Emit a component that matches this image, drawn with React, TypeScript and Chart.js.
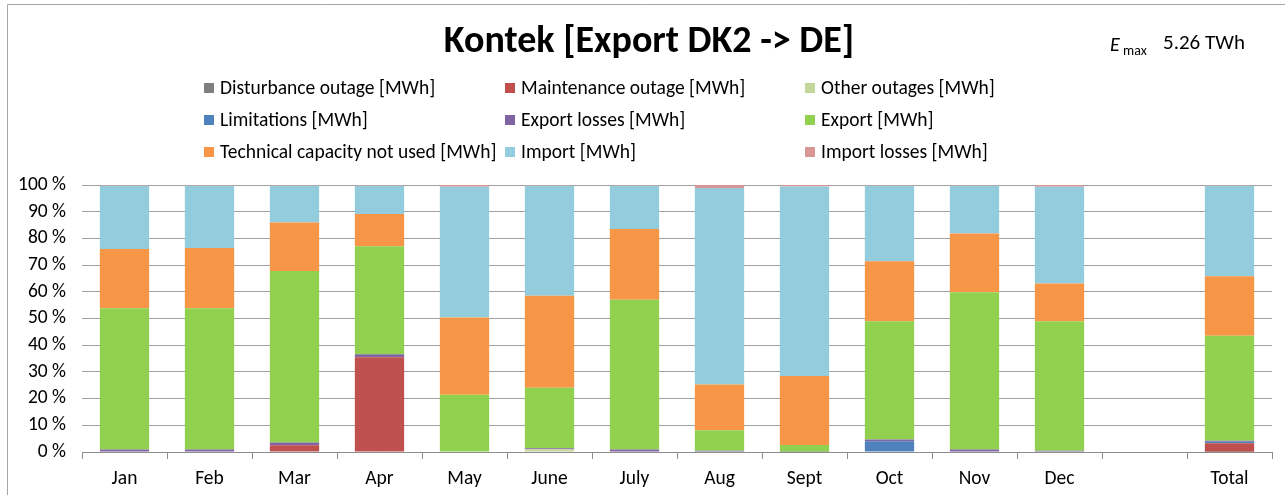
import React, { useEffect, useRef } from "react";
import { Chart, registerables } from "chart.js";

Chart.register(...registerables);

const FONT = "Carlito, Calibri, Lato, 'Noto Sans', sans-serif";

const TITLE = "Kontek [Export DK2 -> DE]";
const EMAX_VALUE = "5.26 TWh";

const categories = ["Jan", "Feb", "Mar", "Apr", "May", "June", "July", "Aug", "Sept", "Oct", "Nov", "Dec", "", "Total"];

// percent shares of E_max per month
const disturbanceOutage = [0, 0, 0, 0, 0, 0, 0, 0, 0, 0, 0, 0, null, 0.1];
const maintenanceOutage = [0, 0, 2.5, 35.5, 0, 0, 0, 0, 0, 0, 0, 0, null, 3.2];
const otherOutages = [0, 0, 0, 0, 0, 1.0, 0, 0, 0, 0, 0, 0, null, 0];
const limitations = [0, 0, 0, 0, 0, 0, 0, 0, 0, 4.0, 0, 0, null, 0.5];
const exportLosses = [0.9, 0.9, 1.1, 1.1, 0.2, 0.4, 0.9, 0.5, 0.1, 0.7, 0.9, 0.5, null, 0.4];
const exportValues = [52.9, 52.9, 64.2, 40.5, 21.2, 22.7, 56.1, 7.6, 2.5, 44.3, 58.9, 48.5, null, 39.3];
const technicalNotUsed = [22.2, 22.6, 18.2, 12.0, 29.0, 34.4, 26.5, 17.2, 25.9, 22.4, 22.0, 14.1, null, 22.3];
const importValues = [23.7, 23.3, 13.7, 10.6, 48.9, 41.2, 16.2, 73.6, 70.9, 28.3, 17.9, 36.2, null, 33.9];
const importLosses = [0.3, 0.3, 0.3, 0.3, 0.7, 0.3, 0.3, 1.1, 0.6, 0.3, 0.3, 0.7, null, 0.3];

const yTicks = [0, 10, 20, 30, 40, 50, 60, 70, 80, 90, 100];

const seriesLabels = [
  "Disturbance outage [MWh]",
  "Maintenance outage [MWh]",
  "Other outages [MWh]",
  "Limitations [MWh]",
  "Export losses [MWh]",
  "Export [MWh]",
  "Technical capacity not used [MWh]",
  "Import [MWh]",
  "Import losses [MWh]",
];
const seriesColors = ["#7f7f7f", "#c0504d", "#c3d69b", "#4f81bd", "#8064a2", "#92d050", "#f79646", "#93cddd", "#d99694"];
const seriesData = [
  disturbanceOutage,
  maintenanceOutage,
  otherOutages,
  limitations,
  exportLosses,
  exportValues,
  technicalNotUsed,
  importValues,
  importLosses,
];

const overlayPlugin = {
  id: "overlay",
  beforeDraw(chart: any) {
    const ctx = chart.ctx;
    ctx.save();
    ctx.fillStyle = "#ffffff";
    ctx.fillRect(0, 0, chart.width, chart.height);
    ctx.strokeStyle = "#a6a6a6";
    ctx.lineWidth = 1;
    ctx.beginPath();
    ctx.moveTo(7.5, 600);
    ctx.lineTo(7.5, 4.5);
    ctx.lineTo(1400, 4.5);
    ctx.stroke();
    ctx.restore();
  },
  afterDraw(chart: any) {
    const ctx = chart.ctx;
    ctx.save();
    ctx.fillStyle = "#000000";
    ctx.textBaseline = "middle";
    ctx.textAlign = "center";
    ctx.font = `bold 38px ${FONT}`;
    ctx.fillText(TITLE, 649, 42);

    ctx.textAlign = "left";
    ctx.font = `italic 20px ${FONT}`;
    ctx.fillText("E", 1110, 46);
    ctx.font = `14px ${FONT}`;
    ctx.fillText("max", 1123, 51);
    ctx.font = `21px ${FONT}`;
    ctx.fillText(EMAX_VALUE, 1163, 44);

    const cols = [204, 505, 805];
    const rows = [88, 120, 152];
    chart.data.datasets.forEach((ds: any, i: number) => {
      const c = i % 3;
      const r = Math.floor(i / 3);
      ctx.fillStyle = ds.backgroundColor;
      ctx.fillRect(cols[c], rows[r] - 5, 10, 10);
      ctx.fillStyle = "#000000";
      ctx.font = `19.5px ${FONT}`;
      ctx.fillText(ds.label, cols[c] + 16, rows[r] + 1);
    });
    ctx.restore();
  },
};

export default function App() {
  const canvasRef = useRef<HTMLCanvasElement | null>(null);

  useEffect(() => {
    document.body.style.margin = "0";
    const canvas = canvasRef.current;
    if (!canvas) return;
    const chart = new Chart(canvas, {
      type: "bar",
      data: {
        labels: categories,
        datasets: seriesLabels.map((label, i) => ({
          label,
          data: seriesData[i],
          backgroundColor: seriesColors[i],
          borderWidth: 0,
          barPercentage: 0.58,
          categoryPercentage: 1,
        })),
      },
      options: {
        responsive: false,
        animation: false,
        devicePixelRatio: 1,
        layout: { padding: { top: 185, left: 0, right: 13, bottom: 0 } },
        plugins: {
          legend: { display: false },
          title: { display: false },
          tooltip: { enabled: false },
        },
        scales: {
          x: {
            stacked: true,
            afterFit: (scale: any) => {
              scale.height = 43;
            },
            grid: {
              drawOnChartArea: false,
              drawTicks: true,
              tickLength: 7,
              color: "#8c8c8c",
              offset: true,
            },
            border: { display: true, color: "#8c8c8c" },
            ticks: {
              color: "#000000",
              font: { family: FONT, size: 19.5 },
              padding: 8,
              maxRotation: 0,
              autoSkip: false,
            },
          },
          y: {
            stacked: true,
            min: 0,
            max: 100,
            afterFit: (scale: any) => {
              scale.width = 82;
            },
            afterBuildTicks: (scale: any) => {
              scale.ticks = yTicks.map((v) => ({ value: v }));
            },
            grid: {
              drawTicks: false,
              color: "#a0a0a0",
              lineWidth: 1,
            },
            border: { display: false },
            ticks: {
              color: "#000000",
              font: { family: FONT, size: 19.5 },
              padding: 16,
              callback: (v: any) => `${v} %`,
            },
          },
        },
      },
      plugins: [overlayPlugin],
    });
    return () => chart.destroy();
  }, []);

  return (
    <div style={{ width: 1285, height: 495, position: "relative" }}>
      <canvas ref={canvasRef} width={1285} height={495} style={{ display: "block" }} />
    </div>
  );
}
